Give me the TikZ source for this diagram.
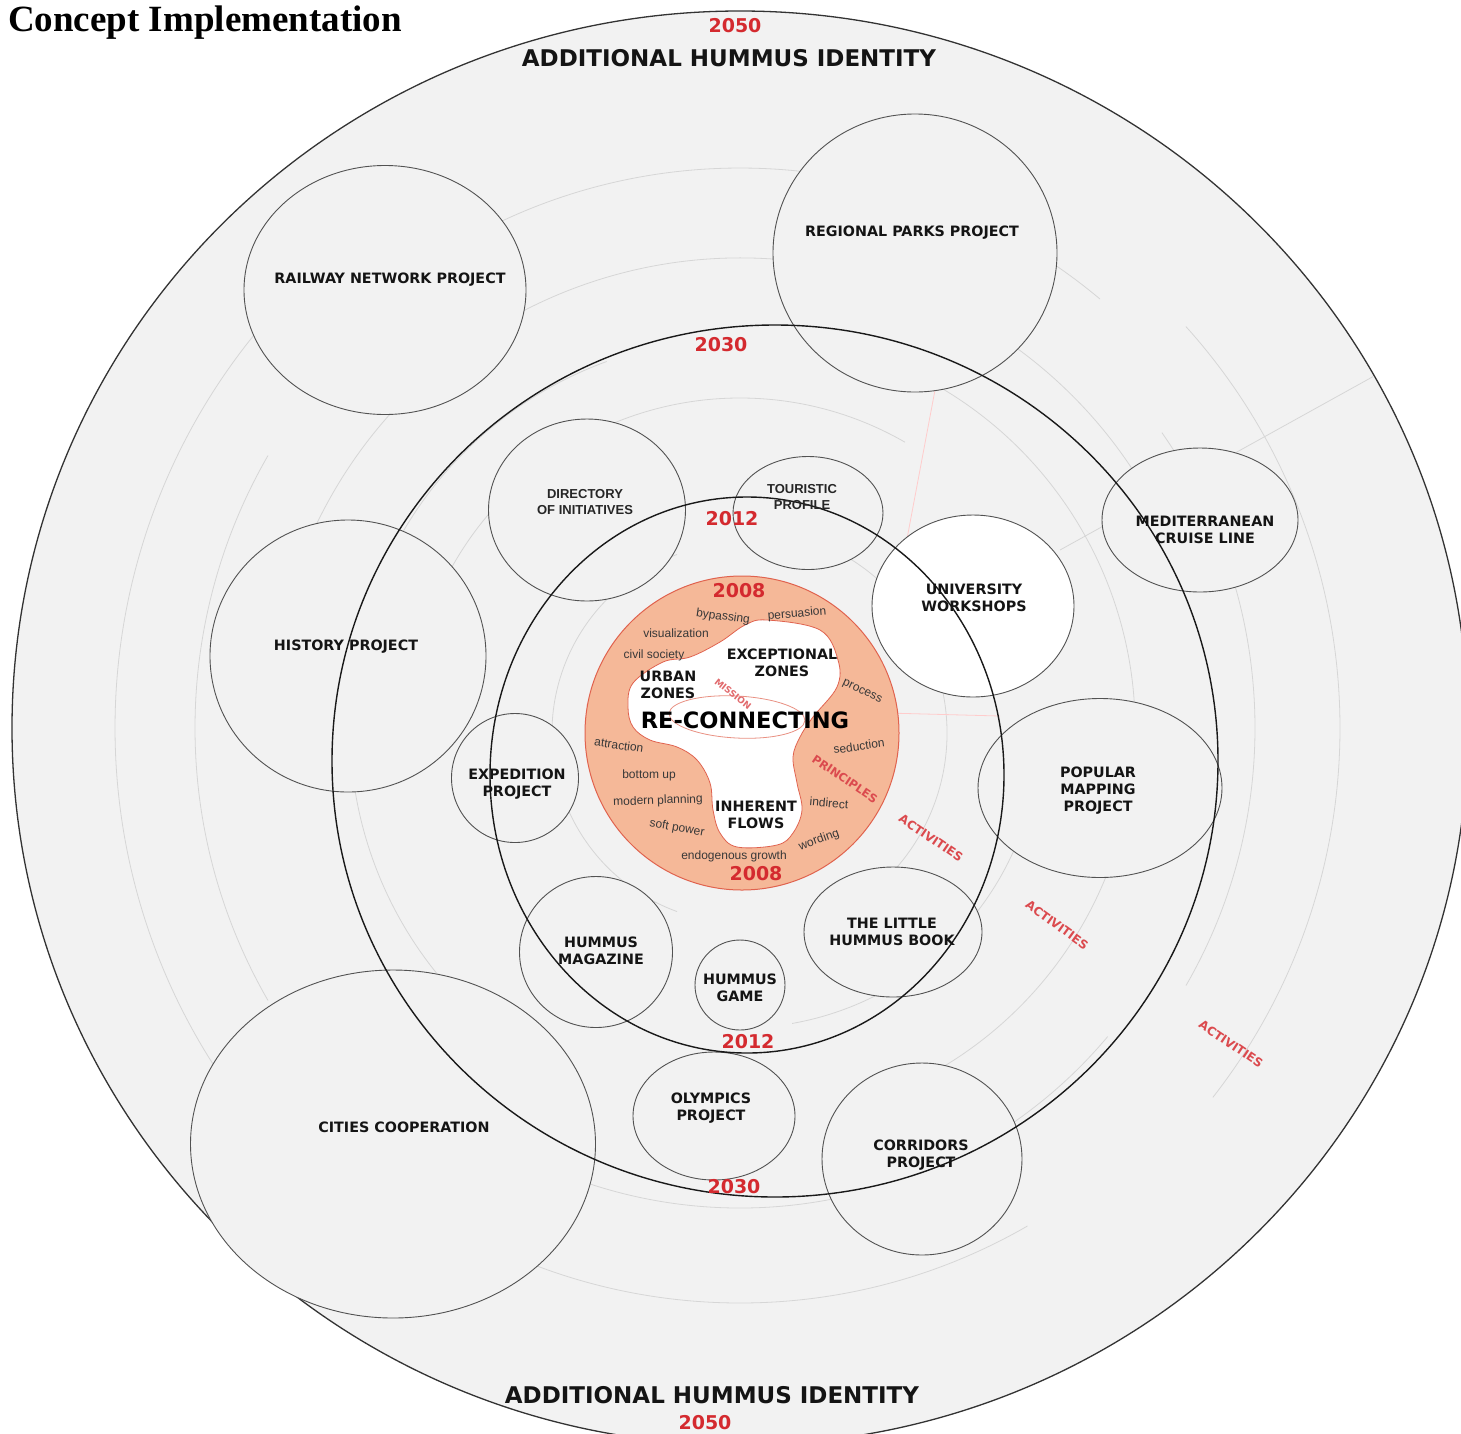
\documentclass[tikz,border=0pt]{standalone}
\usepackage{fontspec}
\setmainfont{DejaVu Sans}
\newfontfamily\arialfont{Liberation Sans}
\newfontfamily\titlefont{Liberation Serif}
\usepackage{tikz}
\usetikzlibrary{shapes.geometric,positioning}
\usepackage{xcolor}
\definecolor{yearred}{HTML}{D42A2F}
\definecolor{ringorange}{HTML}{F5B898}
\definecolor{ringedge}{HTML}{E0624E}
\definecolor{bggray}{HTML}{F2F2F2}

\tikzset{
  project/.style={draw=black!68, line width=0.9pt, ellipse, fill=bggray, inner sep=0pt},
  plabel/.style={font=\bfseries\fontsize{14.3}{17}\selectfont, align=center, text=black!92, inner sep=0pt},
  alabel/.style={font=\arialfont\bfseries\fontsize{13}{16}\selectfont, align=center, text=black!85, inner sep=0pt},
  head/.style={font=\bfseries\fontsize{23}{23}\selectfont, text=black!92, inner sep=0pt},
  year/.style={font=\bfseries\fontsize{19}{19}\selectfont, text=yearred, inner sep=0pt},
  act/.style={font=\bfseries\fontsize{12}{12}\selectfont, text=yearred!85, inner sep=0pt},
  word/.style={font=\arialfont\fontsize{12}{12}\selectfont, text=black!78, inner sep=0pt},
  faint/.style={draw=black!16, line width=0.8pt},
  ring/.style={draw=black!90, line width=1.4pt},
}

\begin{document}
\begin{tikzpicture}[x=1pt,y=-1pt]
    \useasboundingbox (0,0) rectangle (1461,1433);
    \fill[white] (0,0) rectangle (1461,1433);

    % 2050 disc
    \coordinate (hub) at (740,728);
    \begin{scope}
        \clip (0,0) rectangle (1461,1433);
        \draw[fill=bggray, line width=1.3pt, draw=black!80] (hub) ellipse [x radius=728, y radius=717];
    \end{scope}

    % faint background arcs
    \begin{scope}
        \clip (hub) ellipse [x radius=727, y radius=716];
        \foreach \r/\a/\b in {625/140/222, 545/150/210, 600/-42/38, 515/-35/30, 470/205/335, 480/40/140, 575/60/125, 560/230/310, 390/120/250, 395/-70/60, 330/200/300, 300/20/80}
            \draw[faint] (hub) ++(\a:\r) arc[start angle=\a, end angle=\b, radius=\r];
        \draw[faint] (742,733) ++(110:190) arc[start angle=110, end angle=250, radius=190];
        \draw[faint] (742,733) ++(-60:205) arc[start angle=-60, end angle=60, radius=205];
        \draw[faint] (1060,550) -- (1412,355);
        \draw[draw=red!20, line width=0.8pt] (935,390) -- (903,560);
        \draw[draw=red!20, line width=0.8pt] (586,705) -- (1000,716);
    \end{scope}

    % projects
    \node[project, minimum width=282, minimum height=249] (rail) at (385,290) {};
    \node[project, minimum width=284, minimum height=278] (parks) at (915,253) {};
    \node[project, minimum width=197, minimum height=182] (directory) at (587,510) {};
    \node[project, minimum width=150, minimum height=113] (touristic) at (808,513) {};
    \node[project, fill=white, minimum width=202, minimum height=182] (university) at (973,606) {};
    \node[project, minimum width=196, minimum height=144] (cruise) at (1200,520) {};
    \node[project, minimum width=276, minimum height=272] (history) at (348,656) {};
    \node[project, minimum width=127, minimum height=129] (expedition) at (515,778) {};
    \node[project, minimum width=244, minimum height=179] (mapping) at (1100,788) {};
    \node[project, minimum width=178, minimum height=130] (book) at (893,932) {};
    \node[project, minimum width=153, minimum height=151] (magazine) at (596,952) {};
    \node[project, minimum width=90, minimum height=90] (game) at (740,985) {};
    \node[project, minimum width=162, minimum height=128] (olympics) at (714,1116) {};
    \node[project, minimum width=200, minimum height=192] (corridors) at (922,1159) {};
    \node[project, minimum width=405, minimum height=348] (cities) at (393,1144) {};

    % 2008 core
    \draw[fill=ringorange, draw=ringedge, line width=1pt] (742,733) circle [radius=157];
    \draw[fill=white, draw=ringedge, line width=0.8pt] plot[smooth cycle, tension=0.6] coordinates {
        (633,683) (663,662) (690,657) (720,642) (745,625) (767,620) (820,630)
        (838,660) (837,687) (813,717) (800,737) (793,757) (797,783) (802,810)
        (793,833) (777,845) (737,847) (720,833) (713,810) (710,783) (697,760)
        (677,747) (650,740) (633,727) (628,707)};
    \draw[draw=ringedge!70, line width=0.8pt, rotate around={-3:(737,717)}] (737,717) ellipse [x radius=68, y radius=21];

    % time rings
    \draw[ring] (775,761) ellipse [x radius=443, y radius=436];
    \draw[ring] (747,775) ellipse [x radius=257, y radius=278];

    % titles and years
    \node[font=\titlefont\bfseries\fontsize{37}{37}\selectfont, anchor=base west, inner sep=0pt] (title) at (8,31) {Concept Implementation};
    \node[head] (identityTop) at (729,58) {ADDITIONAL HUMMUS IDENTITY};
    \node[head] (identityBot) at (712,1395) {ADDITIONAL HUMMUS IDENTITY};
    \node[year] (y2050a) at (735,26) {2050};
    \node[year] (y2050b) at (705,1423) {2050};
    \node[year] (y2030a) at (721,345) {2030};
    \node[year] (y2030b) at (734,1187) {2030};
    \node[year] (y2012a) at (732,519) {2012};
    \node[year] (y2012b) at (748,1042) {2012};
    \node[year] (y2008a) at (739,591) {2008};
    \node[year] (y2008b) at (756,874) {2008};

    % project labels
    \node[plabel] (railT) at (390,280) {RAILWAY NETWORK PROJECT};
    \node[plabel] (parksT) at (912,233) {REGIONAL PARKS PROJECT};
    \node[alabel] (directoryT) at (585,502) {DIRECTORY\\OF INITIATIVES};
    \node[alabel] (touristicT) at (802,497) {TOURISTIC\\PROFILE};
    \node[plabel] (universityT) at (974,598) {UNIVERSITY\\WORKSHOPS};
    \node[plabel] (cruiseT) at (1205,530) {MEDITERRANEAN\\CRUISE LINE};
    \node[plabel] (historyT) at (346,647) {HISTORY PROJECT};
    \node[plabel] (expeditionT) at (517,784) {EXPEDITION\\PROJECT};
    \node[plabel] (mappingT) at (1098,791) {POPULAR\\MAPPING\\PROJECT};
    \node[plabel] (bookT) at (892,932) {THE LITTLE\\HUMMUS BOOK};
    \node[plabel] (magazineT) at (601,951) {HUMMUS\\MAGAZINE};
    \node[plabel] (gameT) at (740,988) {HUMMUS\\GAME};
    \node[plabel] (olympicsT) at (711,1108) {OLYMPICS\\PROJECT};
    \node[plabel] (corridorsT) at (921,1155) {CORRIDORS\\PROJECT};
    \node[plabel] (citiesT) at (404,1127) {CITIES COOPERATION};

    % core labels
    \node[plabel] (urban) at (668,685) {URBAN\\ZONES};
    \node[plabel] (exceptional) at (782,663) {EXCEPTIONAL\\ZONES};
    \node[plabel] (inherent) at (756,815) {INHERENT\\FLOWS};
    \node[font=\bfseries\fontsize{22.5}{22.5}\selectfont, inner sep=0pt] (reconnect) at (745,720) {RE-CONNECTING};
    \node[font=\bfseries\fontsize{9}{9}\selectfont, text=yearred!70, rotate=-38, inner sep=0pt] (mission) at (733,694) {MISSION};
    \node[font=\bfseries\fontsize{11.5}{11.5}\selectfont, text=yearred!85, rotate=-34, inner sep=0pt] (principles) at (845,779) {PRINCIPLES};

    % ring words
    \node[word, rotate=-8] (bypass) at (723,617) {bypassing};
    \node[word, rotate=5] (persuade) at (797,614) {persuasion};
    \node[word] (visual) at (676,633) {visualization};
    \node[word] (civil) at (654,655) {civil society};
    \node[word, rotate=-25] (process) at (862,692) {process};
    \node[word, rotate=8] (seduce) at (859,746) {seduction};
    \node[word, rotate=-8] (attract) at (619,745) {attraction};
    \node[word] (bottomup) at (649,775) {bottom up};
    \node[word, rotate=2] (modern) at (658,801) {modern planning};
    \node[word, rotate=-10] (soft) at (677,828) {soft power};
    \node[word] (endog) at (734,856) {endogenous growth};
    \node[word, rotate=20] (wording) at (819,840) {wording};
    \node[word, rotate=-5] (indirect) at (829,803) {indirect};

    % activities
    \node[act, rotate=-34] (actA) at (931,838) {ACTIVITIES};
    \node[act, rotate=-36] (actB) at (1057,925) {ACTIVITIES};
    \node[act, rotate=-34] (actC) at (1231,1044) {ACTIVITIES};
\end{tikzpicture}
\end{document}
